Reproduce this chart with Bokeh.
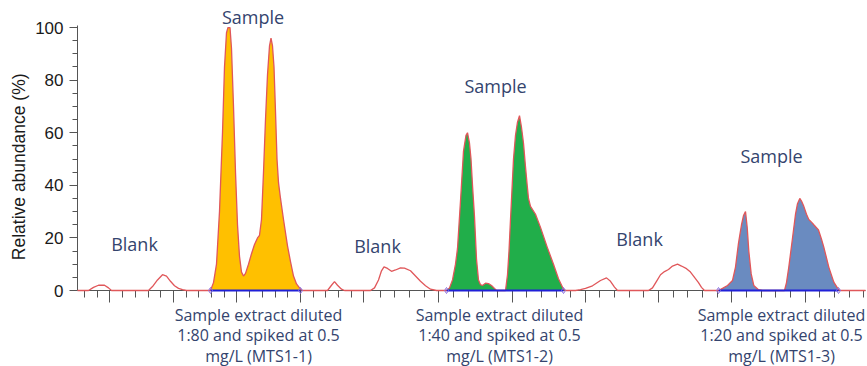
import math
from bokeh.plotting import figure
from bokeh.models import Label, FixedTicker, Range1d
from bokeh.layouts import column, row
from bokeh.core.properties import value
from bokeh.embed import file_html
from bokeh.resources import INLINE

# ---------------- data ----------------
# retention axis in arbitrary scan units, abundance in %
trace_x = [0.0, 1.1, 1.6, 2.1, 2.7, 3.1, 3.4,
           7.1, 7.5, 8.0, 8.5, 8.9, 9.3, 9.7, 10.1, 10.5, 10.9,
           13.3, 13.6, 13.9, 14.2, 14.5, 14.7, 14.9, 15.05, 15.25, 15.4, 15.6, 15.8, 16.0, 16.2, 16.4, 16.6,
           16.8, 17.1, 17.4, 17.7, 18.0, 18.2, 18.4, 18.6, 18.8, 19.0, 19.2, 19.35, 19.5, 19.65, 19.8, 19.95,
           20.1, 20.3, 20.6, 21.0, 21.3, 21.6, 21.9, 22.3, 22.5,
           25.0, 25.4, 25.7, 26.0, 26.4, 26.7,
           29.3, 29.7, 30.1, 30.4, 30.65, 31.0, 31.4, 31.8, 32.3, 32.7, 33.3, 33.8, 34.3, 34.8, 35.3, 35.9,
           36.9, 37.2, 37.5, 37.8, 38.0, 38.3, 38.6, 38.85, 39.0, 39.2, 39.35, 39.5, 39.7, 39.9, 40.1, 40.3,
           40.5, 40.8, 41.1, 41.4, 41.7, 41.9,
           42.8, 43.0, 43.15, 43.3, 43.47, 43.6, 43.8, 44.0, 44.2, 44.4, 44.6, 44.8, 44.97, 45.1, 45.3, 45.8,
           46.3, 46.97, 47.6, 48.1, 48.6, 48.8,
           49.8, 50.3, 50.8, 51.5, 52.3, 52.9, 53.3, 53.7, 54.0,
           57.1, 57.5, 57.9, 58.3, 58.7, 59.1, 59.5, 60.0, 60.4, 60.9, 61.3, 61.7, 62.1, 62.4, 62.7,
           64.1, 64.5, 65.0, 65.5, 65.8, 66.1, 66.4, 66.6, 66.8, 66.97, 67.13, 67.37, 67.63, 68.1, 68.5,
           70.7, 70.9, 71.13, 71.47, 71.8, 72.0, 72.23, 72.4, 72.63, 72.9, 73.13, 73.4, 73.63, 74.1, 74.4,
           74.63, 75.13, 75.63, 76.1, 76.3, 78.8]
trace_y = [0, 0, 1.2, 2.0, 2.0, 1.0, 0,
           0, 1.5, 4, 6, 5.5, 3.5, 1.8, 0.8, 0.3, 0,
           0, 3, 10, 30, 60, 85, 98, 100, 100, 92, 70, 45, 25, 13, 7, 5.5,
           6.5, 10, 14, 17.5, 20, 21, 27, 45, 65, 82, 93, 96, 93, 85, 68, 50,
           41, 35, 27, 17, 11, 5.5, 2.5, 0.5, 0,
           0, 2, 3.4, 2, 0.5, 0,
           0, 1, 4, 7.5, 9, 8.4, 7.3, 7.8, 8.6, 8.5, 7.5, 5.5, 3.5, 1.8, 0.5, 0,
           0, 1, 4, 10, 16, 34, 53, 59, 60, 56, 50, 40, 28, 12, 4, 2.2,
           1.9, 2.8, 2.6, 1.9, 0.8, 0,
           0, 6, 15, 27, 40, 50, 59, 64, 66.5, 62, 56, 47, 40, 35, 32, 29,
           24, 16.5, 10, 4.5, 0.5, 0,
           0, 0.3, 0.8, 1.8, 3.8, 4.8, 3.5, 1.3, 0,
           0, 1, 3.5, 6, 7.2, 8, 9.3, 10, 9.3, 8.3, 7, 5, 3, 1.2, 0,
           0, 0.8, 1.9, 3.8, 8.9, 18, 25, 28.5, 30, 24, 15, 6.3, 1.9, 0.3, 0,
           0, 3, 8.9, 19, 29, 33, 35, 34, 32, 29, 27, 26, 25, 23, 19.5,
           16.5, 8.9, 3.2, 0.3, 0, 0]

# integrated sample windows (start, end) and their fill colours
sample_windows = [(13.3, 22.3), (36.9, 48.6), (64.1, 76.1)]
sample_fills = ["#FFC000", "#21AE4A", "#6A8BC0"]

# axis ticks
y_major = [0, 20, 40, 60, 80, 100]
y_minor = [5, 10, 15, 25, 30, 35, 45, 50, 55, 65, 70, 75, 85, 90, 95]
x_major = [3.24, 9.59, 15.94, 22.29, 28.64, 36.13, 43.45, 50.78, 58.10, 65.43, 72.75]
x_minor = [0.70, 1.97, 4.51, 5.78, 7.05, 8.32, 10.86, 12.13, 13.40, 14.67, 17.21, 18.48, 19.75,
           21.02, 23.56, 24.83, 26.10, 27.37, 30.27, 31.73, 33.20, 34.66, 37.59, 39.06, 40.52,
           41.99, 44.92, 46.38, 47.85, 49.31, 52.24, 53.71, 55.17, 56.64, 59.57, 61.03, 62.50,
           63.96, 66.89, 68.36, 69.82, 71.29, 74.22, 75.68, 77.15, 78.61]

# annotation texts
y_title = "Relative abundance  (%)"
blank_text = ["Blank", "Blank", "Blank"]
sample_text = ["Sample", "Sample", "Sample"]
dilution_text = [
    ["Sample extract diluted", "1:80 and spiked at 0.5", "mg/L (MTS1-1)"],
    ["Sample extract diluted", "1:40 and spiked at 0.5", "mg/L (MTS1-2)"],
    ["Sample extract diluted", "1:20 and spiked at 0.5", "mg/L (MTS1-3)"],
]

TEXT_COL = "#34446E"
FONT = "Open Sans"

TOP_H = 304

# ---------------- y-axis title strip ----------------
lab = figure(width=30, height=TOP_H, output_backend="svg", toolbar_location=None,
             x_range=Range1d(0, 30), y_range=Range1d(0, TOP_H),
             x_axis_location=None, y_axis_location=None,
             min_border_left=0, min_border_right=0, min_border_top=0, min_border_bottom=0)
lab.outline_line_color = None
lab.grid.grid_line_color = None
lab.text(x=[18], y=[135], text=[y_title], angle=math.pi / 2,
         text_font=value("Liberation Sans"), text_font_size="17.5px", text_color="#1a1a1a",
         text_align="center", text_baseline="middle")

# ---------------- main chromatogram ----------------
p = figure(width=837, height=TOP_H, output_backend="svg", toolbar_location=None,
           x_range=Range1d(0, 78.8), y_range=Range1d(0, 108.0),
           min_border_left=47, min_border_right=2, min_border_top=6, min_border_bottom=14)
p.outline_line_color = None
p.grid.grid_line_color = None
p.background_fill_color = "white"

# filled sample peaks
for (x0, x1), col in zip(sample_windows, sample_fills):
    xs = [x for x in trace_x if x0 <= x <= x1]
    ys = [y for x, y in zip(trace_x, trace_y) if x0 <= x <= x1]
    p.varea(x=xs, y1=0, y2=ys, fill_color=col, fill_alpha=1.0)

# trace outline
p.line(trace_x, trace_y, line_color="#E0575A", line_width=1.3, level="overlay")

# integration baselines
for (x0, x1) in sample_windows:
    p.line([x0, x1], [0, 0], line_color="#2020D8", line_width=2, level="overlay")
    p.scatter([x0, x1], [0, 0], marker="diamond", size=6, fill_color=None,
              line_color="#8A6FE0", line_width=1, level="overlay")

# axes
ax = p.yaxis[0]
ax.ticker = FixedTicker(ticks=y_major, minor_ticks=y_minor)
ax.bounds = (0, 100.8)
ax.axis_line_color = "#555555"
ax.major_tick_line_color = "#555555"
ax.minor_tick_line_color = "#555555"
ax.major_tick_out = 8
ax.major_tick_in = 0
ax.minor_tick_out = 5
ax.minor_tick_in = 0
ax.major_label_text_font = "Liberation Sans"
ax.major_label_text_font_size = "17px"
ax.major_label_text_color = "#1a1a1a"
ax.major_label_standoff = 6

bx = p.xaxis[0]
bx.ticker = FixedTicker(ticks=x_major, minor_ticks=x_minor)
bx.axis_line_color = "#555555"
bx.major_tick_line_color = "#555555"
bx.minor_tick_line_color = "#555555"
bx.major_tick_out = 12
bx.major_tick_in = 0
bx.minor_tick_out = 7
bx.minor_tick_in = 0
bx.major_label_text_color = None
bx.major_label_text_font_size = "0px"
bx.major_label_standoff = 0

# Blank labels
for t, (x, y) in zip(blank_text, [(5.7, 17.5), (30.0, 17.1), (56.2, 19.4)]):
    p.add_layout(Label(x=x, y=y, text=t, text_font=FONT, text_font_size="18px",
                       text_color=TEXT_COL, text_align="center", text_baseline="alphabetic"))

# Sample labels
for t, (x, y) in zip(sample_text, [(17.55, 104.0), (41.8, 77.6), (69.4, 51.0)]):
    p.add_layout(Label(x=x, y=y, text=t, text_font=FONT, text_font_size="18px",
                       text_color=TEXT_COL, text_align="center", text_baseline="alphabetic"))

# ---------------- text strip below the axis ----------------
q = figure(width=867, height=366 - TOP_H, output_backend="svg", toolbar_location=None,
           x_range=p.x_range, y_range=Range1d(2.513, -0.497),
           x_axis_location=None, y_axis_location=None,
           min_border_left=77, min_border_right=2, min_border_top=0, min_border_bottom=0)
q.outline_line_color = None
q.grid.grid_line_color = None

group_x = [18.1, 42.2, 70.4]
tx, ty, tt = [], [], []
for lines, xc in zip(dilution_text, group_x):
    for i, line in enumerate(lines):
        tx.append(xc)
        ty.append(i)
        tt.append(line)
q.text(x=tx, y=ty, text=tt, text_font=value(FONT), text_font_size="16px",
       text_color=TEXT_COL, text_align="center", text_baseline="alphabetic")

layout = column(row(lab, p, spacing=0), q, spacing=0)
open("out.html", "w").write(file_html(layout, INLINE))
